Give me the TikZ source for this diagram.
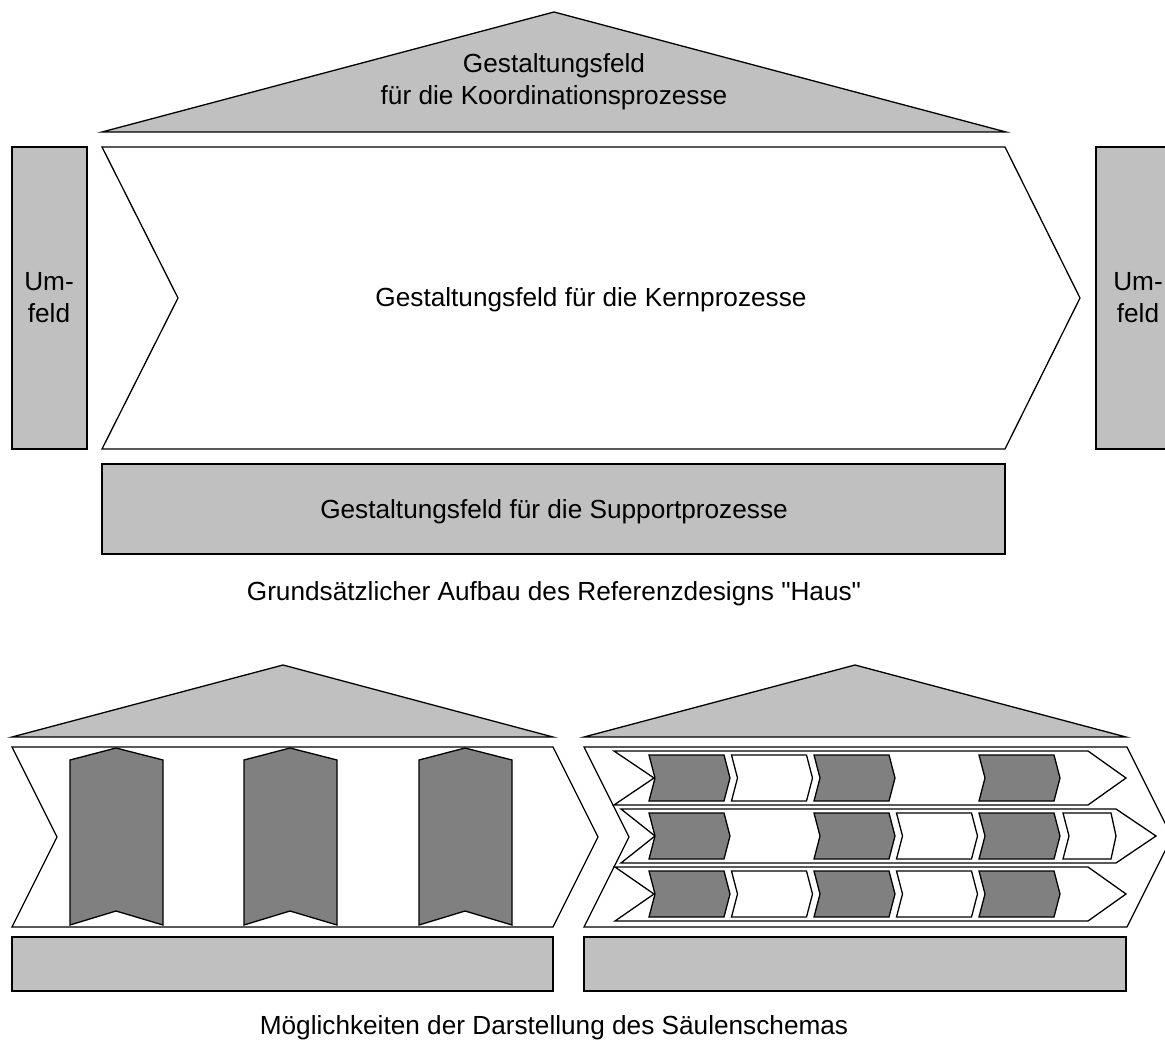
\documentclass[tikz,border=0pt]{standalone}
\usepackage{fontspec}
\setmainfont{Liberation Sans}[Ligatures=TeXOff]
\definecolor{fieldgray}{HTML}{C0C0C0}
\definecolor{pillargray}{HTML}{808080}
\begin{document}
\begin{tikzpicture}[x=1pt,y=-1pt,
  outline/.style={draw=black,line width=1.3pt,line join=miter},
  lightfield/.style={outline,fill=fieldgray},
  whitefield/.style={outline,fill=white},
  darkfield/.style={outline,fill=pillargray},
  label/.style={font=\fontsize{26.2}{32}\selectfont,inner sep=0pt,anchor=base,align=center},
  multilabel/.style={font=\fontsize{26.2}{32}\selectfont,inner sep=0pt,align=center}]
\useasboundingbox (0,0) rectangle (1165,1048);

% ---------- basic house ----------
% roof: coordination processes
\draw[lightfield] (102,132) -- (554,12) -- (1006,132) -- cycle;
\node[label] (roof1) at (554,73) {Gestaltungsfeld};
\node[label] (roof2) at (554,105) {für die Koordinationsprozesse};

% surroundings on both sides
\draw[lightfield] (12,147) rectangle (87,449);
\node[multilabel] (envL) at (49,298) {Um-\\feld};
\draw[lightfield] (1096,147) rectangle (1185,449);
\node[multilabel] (envR) at (1138,298) {Um-\\feld};

% core processes
\draw[whitefield] (102,147) -- (1005,147) -- (1080,298) -- (1005,449) -- (102,449) -- (178,298) -- cycle;
\node[label] (core) at (591,307) {Gestaltungsfeld für die Kernprozesse};

% support processes
\draw[lightfield] (102,464) rectangle (1005,554);
\node[label] (support) at (554,518) {Gestaltungsfeld für die Supportprozesse};

\node[label] (cap1) at (554,600) {Grundsätzlicher Aufbau des Referenzdesigns "Haus"};

% ---------- pillar scheme, variant 1 ----------
\draw[lightfield] (12,737) -- (283,665) -- (553,737) -- cycle;
\draw[whitefield] (12,747) -- (553,747) -- (598,837) -- (553,927) -- (12,927) -- (57,837) -- cycle;
\foreach \c in {116,290,465}{
  \draw[darkfield] (\c-46,760) -- (\c,748) -- (\c+47,760) -- (\c+47,925) -- (\c,911) -- (\c-46,925) -- cycle;
}
\draw[lightfield] (12,937) rectangle (553,991);

% ---------- pillar scheme, variant 2 ----------
\draw[lightfield] (584,737) -- (855,665) -- (1126,737) -- cycle;
\draw[whitefield] (584,747) -- (1127,747) -- (1172,837) -- (1127,927) -- (584,927) -- (629,837) -- cycle;
% process lanes
\draw[whitefield] (614,751) -- (1088,751) -- (1126,778) -- (1088,805) -- (614,805) -- (654,778) -- cycle;
\draw[whitefield] (621,809) -- (1116,809) -- (1156,836) -- (1116,863) -- (621,863) -- (655,836) -- cycle;
\draw[whitefield] (615,867) -- (1088,867) -- (1126,894) -- (1088,921) -- (615,921) -- (654,894) -- cycle;
% process steps: slot/lane/fill
\foreach \k/\m/\f in {0/778/darkfield,1/778/whitefield,2/778/darkfield,4/778/darkfield,
                      0/836/darkfield,2/836/darkfield,3/836/whitefield,4/836/darkfield,
                      0/894/darkfield,1/894/whitefield,2/894/darkfield,3/894/whitefield,4/894/darkfield}{
  \pgfmathsetmacro\L{649+82.5*\k}
  \draw[\f] (\L,\m-23) -- (\L+75,\m-23) -- (\L+81,\m) -- (\L+75,\m+23) -- (\L,\m+23) -- (\L+6,\m) -- cycle;
}
\draw[whitefield] (1063,813) -- (1111,813) -- (1116,836) -- (1111,859) -- (1063,859) -- (1069,836) -- cycle;
\draw[lightfield] (584,937) rectangle (1126,991);

\node[label] (cap2) at (554,1034) {Möglichkeiten der Darstellung des Säulenschemas};
\end{tikzpicture}
\end{document}
